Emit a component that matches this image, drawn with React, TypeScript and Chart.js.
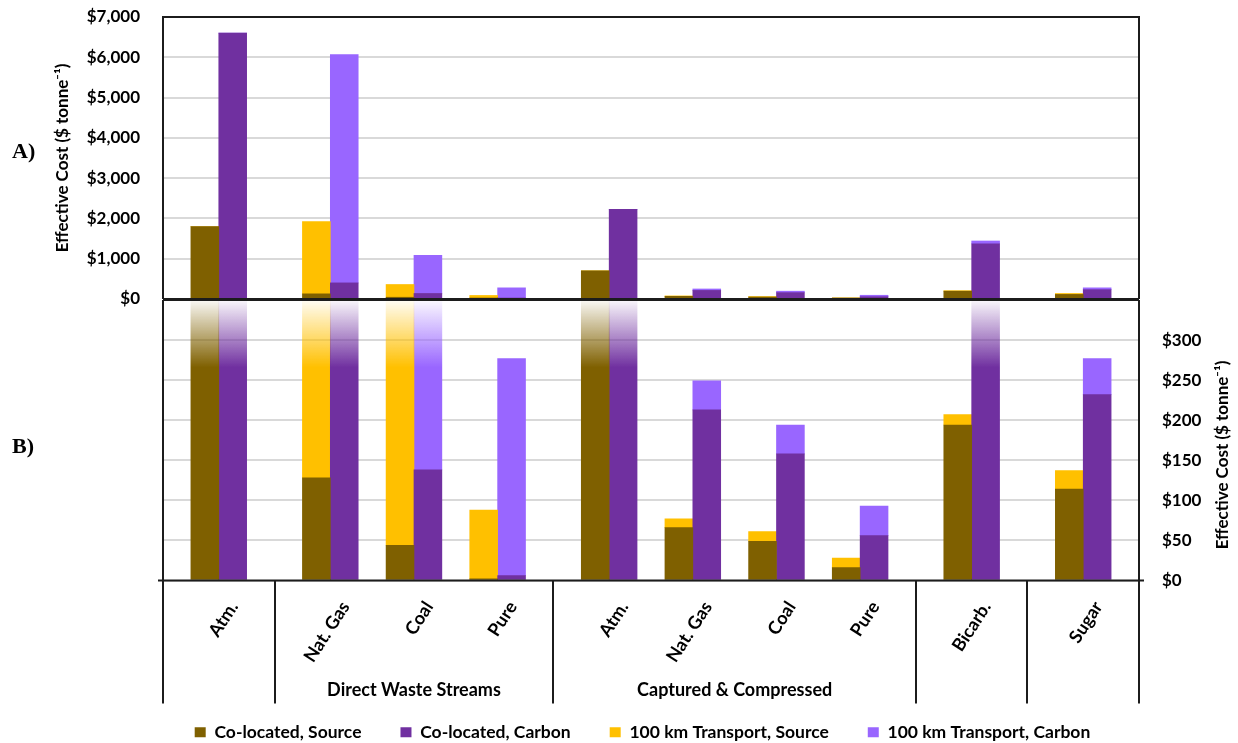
import React, { useEffect, useRef } from "react";
import { Chart, registerables } from "chart.js";

Chart.register(...registerables);

// ---------- data ----------
const categories = ["Atm.", "Nat. Gas", "Coal", "Pure", "Atm.", "Nat. Gas", "Coal", "Pure", "Bicarb.", "Sugar"];
const groupNames = ["Direct Waste Streams", "Captured & Compressed"];
const seriesNames = ["Co-located, Source", "Co-located, Carbon", "100 km Transport, Source", "100 km Transport, Carbon"];

const coLocatedSource = [1800, 128, 44, 2, 700, 66, 49, 16, 194, 114];
const coLocatedCarbon = [6600, 400, 138, 6, 2225, 213, 158, 56, 1370, 232];
const transportSource = [0, 1792, 316, 86, 0, 11, 12, 12, 13, 23];
const transportCarbon = [0, 5670, 947, 271, 0, 36, 36, 37, 70, 45];

const topTickStep = 1000;
const topMax = 7000;
const bottomTickStep = 50;
const bottomTickMax = 300;
const bottomMax = 350;

// ---------- layout (slot grid, not data) ----------
const SLOTS = 35;
const pairCenters = [2, 6, 9, 12, 16, 19, 22, 25, 29, 33];
const separators = [0, 4, 14, 27, 31, 35];
const groupSpans = [
  [4, 14],
  [14, 27],
];
const FADE_FROM = 266;

const colors = {
  coSource: [127, 96, 0],
  coCarbon: [112, 48, 160],
  trSource: [255, 192, 0],
  trCarbon: [153, 102, 255],
};

const FONT = "Lato";
const slotLabels = Array.from({ length: SLOTS }, () => "");

function toSlots(values: number[], offset: number): (number | null)[] {
  const arr: (number | null)[] = Array.from({ length: SLOTS }, () => null);
  values.forEach((v, i) => {
    arr[pairCenters[i] + offset] = v;
  });
  return arr;
}

const sumArr = (a: number[], b: number[]) => a.map((v, i) => v + b[i]);

function rgb(c: number[], a = 1) {
  return `rgba(${c[0]},${c[1]},${c[2]},${a})`;
}

function fadeFill(c: number[], tops: (number | null)[]) {
  return (ctx: any) => {
    const chart = ctx.chart;
    const solid = rgb(c);
    const top = tops[ctx.dataIndex];
    const yScale = chart.scales && chart.scales.y;
    if (top == null || top <= bottomMax || !chart.chartArea || !yScale) return solid;
    const y0 = yScale.getPixelForValue(bottomMax);
    const y1 = yScale.getPixelForValue(FADE_FROM);
    if (!isFinite(y0) || !isFinite(y1)) return solid;
    const g = chart.ctx.createLinearGradient(0, y0, 0, y1);
    g.addColorStop(0, rgb(c, 0.04));
    g.addColorStop(1, solid);
    return g;
  };
}

function buildDatasets(withFade: boolean) {
  const defs = [
    { label: seriesNames[0], vals: coLocatedSource, off: -1, col: colors.coSource, tops: coLocatedSource },
    { label: seriesNames[1], vals: coLocatedCarbon, off: 0, col: colors.coCarbon, tops: coLocatedCarbon },
    { label: seriesNames[2], vals: transportSource, off: -1, col: colors.trSource, tops: sumArr(coLocatedSource, transportSource) },
    { label: seriesNames[3], vals: transportCarbon, off: 0, col: colors.trCarbon, tops: sumArr(coLocatedCarbon, transportCarbon) },
  ];
  return defs.map((d) => ({
    label: d.label,
    data: toSlots(d.vals, d.off),
    backgroundColor: withFade ? fadeFill(d.col, toSlots(d.tops, d.off)) : rgb(d.col),
    borderWidth: 0,
    barPercentage: 1,
    categoryPercentage: 1,
  }));
}

const tickFont = { family: FONT, weight: "bold" as const, size: 17 };
const frameColor = "#1c1c1c";
const gridOpts = {
  color: "#d9d9d9",
  lineWidth: 2,
  drawTicks: true,
  tickLength: 23,
  tickColor: "rgba(0,0,0,0)",
};

const frameA = {
  id: "frameA",
  afterDraw(chart: any) {
    const { ctx, chartArea: a } = chart;
    ctx.save();
    ctx.strokeStyle = frameColor;
    ctx.lineWidth = 2;
    ctx.beginPath();
    ctx.moveTo(a.left, a.bottom);
    ctx.lineTo(a.left, a.top);
    ctx.lineTo(a.right, a.top);
    ctx.lineTo(a.right, a.bottom);
    ctx.moveTo(a.left, a.bottom);
    ctx.lineTo(a.right, a.bottom);
    ctx.stroke();
    ctx.fillStyle = "#000";
    ctx.font = "bold 22px 'Liberation Serif'";
    ctx.textAlign = "left";
    ctx.textBaseline = "alphabetic";
    ctx.fillText("A)", 12, 158);
    ctx.restore();
  },
};

const LEGEND_SHIFT = -58;

const frameB = {
  id: "frameB",
  afterLayout(chart: any) {
    if (chart.legend) {
      chart.legend.left += LEGEND_SHIFT;
      chart.legend.right += LEGEND_SHIFT;
    }
  },
  afterDraw(chart: any) {
    const { ctx, chartArea: a, scales } = chart;
    const x = scales.x;
    const slotW = (a.right - a.left) / SLOTS;
    const bx = (s: number) => a.left + s * slotW;
    const axisBottom = a.bottom + 123;
    ctx.save();
    ctx.strokeStyle = frameColor;
    ctx.lineWidth = 2;
    ctx.beginPath();
    ctx.moveTo(a.left, a.top);
    ctx.lineTo(a.right, a.top);
    ctx.moveTo(a.left - 5, a.bottom);
    ctx.lineTo(a.right + 5, a.bottom);
    separators.forEach((s) => {
      const px = Math.round(bx(s));
      ctx.moveTo(px, s === 0 || s === SLOTS ? a.top : a.bottom);
      ctx.lineTo(px, axisBottom);
    });
    ctx.stroke();

    // category labels
    ctx.fillStyle = "#000";
    ctx.font = `bold 18px ${FONT}`;
    ctx.textAlign = "right";
    ctx.textBaseline = "alphabetic";
    categories.forEach((c, i) => {
      const cx = (x.getPixelForValue(pairCenters[i] - 1) + x.getPixelForValue(pairCenters[i])) / 2;
      ctx.save();
      ctx.translate(cx + 20, a.bottom + 26);
      ctx.rotate((-57 * Math.PI) / 180);
      ctx.fillText(c, 0, 0);
      ctx.restore();
    });

    // group labels
    ctx.textAlign = "center";
    ctx.textBaseline = "middle";
    groupSpans.forEach((g, i) => {
      ctx.fillText(groupNames[i], (bx(g[0]) + bx(g[1])) / 2, a.bottom + 110);
    });

    // right axis title
    ctx.save();
    ctx.font = `bold 17px ${FONT}`;
    ctx.translate(1223, 166);
    ctx.rotate(-Math.PI / 2);
    ctx.fillText("Effective Cost ($ tonne\u207B\u00B9)", 0, 0);
    ctx.restore();

    ctx.font = "bold 22px 'Liberation Serif'";
    ctx.textAlign = "left";
    ctx.textBaseline = "alphabetic";
    ctx.fillText("B)", 12, 164);
    ctx.restore();
  },
};

const dollar = (v: any) => "$" + Number(v).toLocaleString("en-US");

export default function App() {
  const refA = useRef<HTMLCanvasElement>(null);
  const refB = useRef<HTMLCanvasElement>(null);

  useEffect(() => {
    Chart.defaults.font.family = FONT;
    const chartA = new Chart(refA.current as HTMLCanvasElement, {
      type: "bar",
      data: { labels: slotLabels, datasets: buildDatasets(false) as any },
      options: {
        responsive: false,
        animation: false,
        events: [],
        layout: { padding: { top: 17, bottom: 11, left: 0, right: 99 } },
        plugins: { legend: { display: false }, tooltip: { enabled: false } },
        scales: {
          x: { display: false, stacked: true },
          y: {
            stacked: true,
            min: 0,
            max: topMax,
            afterFit: (s: any) => {
              s.width = 163;
            },
            ticks: { stepSize: topTickStep, padding: 0, color: "#000", font: tickFont, callback: dollar },
            grid: gridOpts,
            border: { display: false },
            title: {
              display: true,
              text: "Effective Cost ($ tonne\u207B\u00B9)",
              color: "#000",
              font: tickFont,
              padding: { top: 52, bottom: 0 },
            },
          },
        },
      } as any,
      plugins: [frameA],
    });

    const chartB = new Chart(refB.current as HTMLCanvasElement, {
      type: "bar",
      data: { labels: slotLabels, datasets: buildDatasets(true) as any },
      options: {
        responsive: false,
        animation: false,
        events: [],
        layout: { padding: { top: 11, bottom: 0, left: 163, right: 0 } },
        plugins: {
          tooltip: { enabled: false },
          legend: {
            position: "bottom",
            fullSize: true,
            labels: {
              boxWidth: 11,
              boxHeight: 10,
              padding: 39,
              color: "#000",
              font: { family: FONT, weight: "bold", size: 17.5 },
            },
          },
        },
        scales: {
          x: {
            stacked: true,
            ticks: { display: false },
            grid: { display: false },
            border: { display: false },
            afterFit: (s: any) => {
              s.height = 104;
            },
          },
          y: {
            position: "right",
            stacked: true,
            min: 0,
            max: bottomMax,
            afterFit: (s: any) => {
              s.width = 99;
            },
            afterBuildTicks: (s: any) => {
              s.ticks = s.ticks.filter((t: any) => t.value <= bottomTickMax);
            },
            ticks: { stepSize: bottomTickStep, padding: 0, color: "#000", font: tickFont, callback: dollar },
            grid: gridOpts,
            border: { display: false },
          },
        },
      } as any,
      plugins: [frameB],
    });

    return () => {
      chartA.destroy();
      chartB.destroy();
    };
  }, []);

  return (
    <div style={{ position: "absolute", left: 0, top: 0, width: 1238, height: 743, overflow: "hidden", background: "#fff" }}>
      <canvas ref={refA} width={1238} height={310} style={{ position: "absolute", left: 0, top: 0, width: 1238, height: 310 }} />
      <canvas ref={refB} width={1238} height={462} style={{ position: "absolute", left: 0, top: 289, width: 1238, height: 462 }} />
    </div>
  );
}
